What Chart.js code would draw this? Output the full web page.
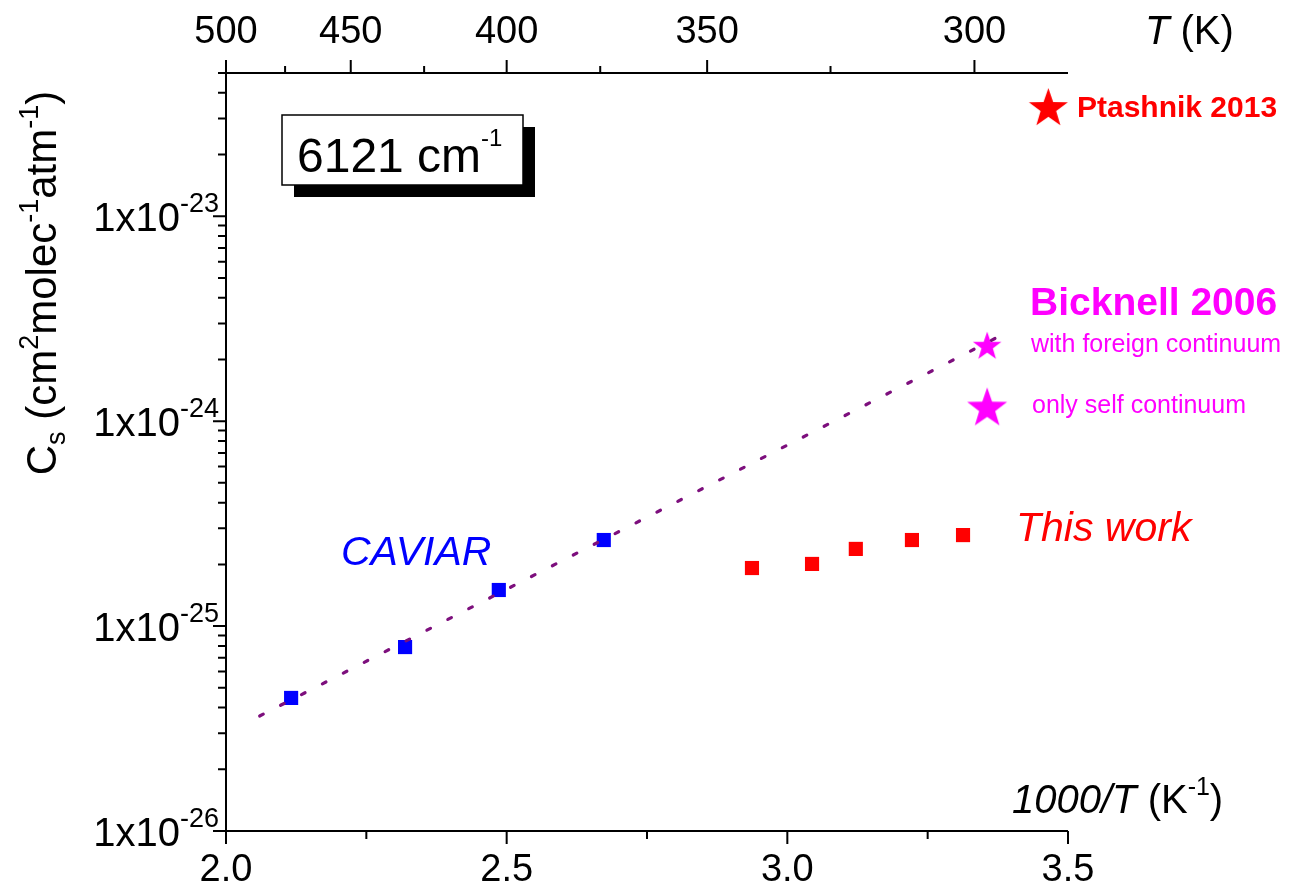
<!DOCTYPE html>
<html>
<head>
<meta charset="utf-8">
<title>Cs vs 1000/T</title>
<script src="https://cdn.jsdelivr.net/npm/chart.js@4.4.1/dist/chart.umd.min.js"></script>
<style>
  html, body { margin: 0; padding: 0; background: #fff; }
  #wrap { width: 1308px; height: 891px; }
</style>
</head>
<body>
<div id="wrap"><canvas id="chart" width="1308" height="891"></canvas></div>
<script>
// 1000/T (K^-1) and self-continuum coefficient Cs (cm2 molec-1 atm-1)
const caviarX = [2.116, 2.319, 2.486, 2.673];
const caviarCs = [4.46e-26, 7.9e-26, 1.5e-25, 2.63e-25];

const thisWorkX = [2.937, 3.044, 3.122, 3.222, 3.313];
const thisWorkCs = [1.92e-25, 2.01e-25, 2.38e-25, 2.63e-25, 2.78e-25];

const ptashnikX = [3.465];
const ptashnikCs = [3.43e-23];

// Bicknell 2006: with foreign continuum, only self continuum
const bicknellX = [3.356, 3.356];
const bicknellCs = [2.35e-24, 1.18e-24];

// extrapolated CAVIAR trend (dotted)
const fitX = [2.06, 3.40];
const fitCs = [3.64e-26, 2.79e-24];

const xTicks = [2.0, 2.5, 3.0, 3.5];
const xMinorTicks = [2.25, 2.75, 3.25];
const tempTicks = [500, 450, 400, 350, 300];
const tempMinorTicks = [475, 425, 375, 325];
const yExponents = [-26, -25, -24, -23];

const SANS = '"Liberation Sans", Arial, Helvetica, sans-serif';

function toPoints(xs, ys) {
  return xs.map((x, i) => ({ x: x, y: ys[i] }));
}

// filled five-pointed star used as a point style
function starImage(outer, color) {
  const size = Math.ceil(outer * 2 + 4);
  const c = document.createElement('canvas');
  c.width = size; c.height = size;
  const g = c.getContext('2d');
  const cx = size / 2, cy = size / 2 + outer * 0.1;
  const inner = outer * 0.4;
  g.beginPath();
  for (let i = 0; i < 10; i++) {
    const r = i % 2 ? inner : outer;
    const a = -Math.PI / 2 + i * Math.PI / 5;
    const px = cx + r * Math.cos(a), py = cy + r * Math.sin(a);
    if (i === 0) g.moveTo(px, py); else g.lineTo(px, py);
  }
  g.closePath();
  g.fillStyle = color;
  g.fill();
  return c;
}

// draw text made of several runs (normal, superscript, subscript)
function drawRuns(ctx, x, y, parts, align) {
  let total = 0;
  parts.forEach(p => { ctx.font = p.font; total += ctx.measureText(p.t).width; });
  let cx = align === 'right' ? x - total : align === 'center' ? x - total / 2 : x;
  parts.forEach(p => {
    ctx.font = p.font;
    ctx.fillText(p.t, cx, y + (p.dy || 0));
    cx += ctx.measureText(p.t).width;
  });
}

const axesAndLabels = {
  id: 'axesAndLabels',
  afterDraw(chart) {
    const ctx = chart.ctx;
    const xs = chart.scales.x, ys = chart.scales.y;
    const a = chart.chartArea;
    ctx.save();
    ctx.strokeStyle = '#000';
    ctx.fillStyle = '#000';
    ctx.lineWidth = 2;
    ctx.textBaseline = 'alphabetic';
    ctx.textAlign = 'left';

    // axis lines: bottom, left, top
    ctx.beginPath();
    ctx.moveTo(a.left, a.top); ctx.lineTo(a.left, a.bottom); ctx.lineTo(a.right, a.bottom);
    ctx.moveTo(a.left, a.top); ctx.lineTo(a.right, a.top);
    ctx.stroke();

    // bottom ticks
    ctx.beginPath();
    xTicks.forEach(v => { const px = xs.getPixelForValue(v); ctx.moveTo(px, a.bottom); ctx.lineTo(px, a.bottom + 13); });
    xMinorTicks.forEach(v => { const px = xs.getPixelForValue(v); ctx.moveTo(px, a.bottom); ctx.lineTo(px, a.bottom + 8); });
    // top ticks at 1000/T
    tempTicks.forEach(t => { const px = xs.getPixelForValue(1000 / t); ctx.moveTo(px, a.top); ctx.lineTo(px, a.top - 13); });
    tempMinorTicks.forEach(t => { const px = xs.getPixelForValue(1000 / t); ctx.moveTo(px, a.top); ctx.lineTo(px, a.top - 7); });
    // left ticks, log decades and minors
    yExponents.forEach(e => {
      const py = ys.getPixelForValue(Math.pow(10, e));
      ctx.moveTo(a.left, py); ctx.lineTo(a.left - 13, py);
      for (let m = 2; m <= 9; m++) {
        const v = m * Math.pow(10, e);
        if (v > ys.max * 1.0001) break;
        const pm = ys.getPixelForValue(v);
        ctx.moveTo(a.left, pm); ctx.lineTo(a.left - 8, pm);
      }
    });
    ctx.stroke();

    // tick labels
    ctx.font = '38px ' + SANS;
    ctx.textAlign = 'center';
    xTicks.forEach(v => ctx.fillText(v.toFixed(1), xs.getPixelForValue(v), a.bottom + 50));
    tempTicks.forEach(t => ctx.fillText(String(t), xs.getPixelForValue(1000 / t), a.top - 30));
    ctx.textAlign = 'left';
    yExponents.forEach(e => {
      const py = ys.getPixelForValue(Math.pow(10, e));
      drawRuns(ctx, a.left - 7, py + 15, [
        { t: '1x10', font: '40px ' + SANS },
        { t: String(e), font: '27px ' + SANS, dy: -19 }
      ], 'right');
    });

    // axis titles
    drawRuns(ctx, 1145, 44, [
      { t: 'T', font: 'italic 40px ' + SANS },
      { t: ' (K)', font: '40px ' + SANS }
    ], 'left');
    drawRuns(ctx, 1012, 813, [
      { t: '1000/T', font: 'italic 40px ' + SANS },
      { t: ' (K', font: '40px ' + SANS },
      { t: '-1', font: '25px ' + SANS, dy: -18 },
      { t: ')', font: '40px ' + SANS }
    ], 'left');

    ctx.save();
    ctx.translate(56, 283);
    ctx.rotate(-Math.PI / 2);
    drawRuns(ctx, 0, 0, [
      { t: 'C', font: '42px ' + SANS },
      { t: 's', font: '27px ' + SANS, dy: 9 },
      { t: ' (cm', font: '42px ' + SANS },
      { t: '2', font: '27px ' + SANS, dy: -18 },
      { t: 'molec', font: '42px ' + SANS },
      { t: '-1', font: '27px ' + SANS, dy: -18 },
      { t: 'atm', font: '42px ' + SANS },
      { t: '-1', font: '27px ' + SANS, dy: -18 },
      { t: ')', font: '42px ' + SANS }
    ], 'center');
    ctx.restore();

    // wavenumber box with drop shadow
    ctx.fillStyle = '#000';
    ctx.fillRect(294, 127, 241, 70);
    ctx.fillStyle = '#fff';
    ctx.fillRect(282, 115, 241, 70);
    ctx.lineWidth = 1.5;
    ctx.strokeRect(282, 115, 241, 70);
    ctx.fillStyle = '#000';
    drawRuns(ctx, 297, 172, [
      { t: '6121 cm', font: '48px ' + SANS },
      { t: '-1', font: '24px ' + SANS, dy: -26 }
    ], 'left');

    // series labels
    ctx.fillStyle = '#0000ff';
    ctx.font = 'italic 41px ' + SANS;
    ctx.fillText('CAVIAR', 341, 565);

    ctx.fillStyle = '#ff0000';
    ctx.font = 'italic 41px ' + SANS;
    ctx.fillText('This work', 1016, 541);
    ctx.font = 'bold 30px ' + SANS;
    ctx.fillText('Ptashnik 2013', 1077, 117);

    ctx.fillStyle = '#ff00ff';
    ctx.font = 'bold 39px ' + SANS;
    ctx.fillText('Bicknell 2006', 1030, 315);
    ctx.font = '25px ' + SANS;
    ctx.fillText('with foreign continuum', 1031, 352);
    ctx.fillText('only self continuum', 1032, 413);

    ctx.restore();
  }
};

new Chart(document.getElementById('chart'), {
  type: 'scatter',
  data: {
    datasets: [
      // first in the list so it is painted over the markers
      {
        label: 'fit',
        data: toPoints(fitX, fitCs),
        showLine: true,
        pointRadius: 0,
        borderColor: '#7d0f7d',
        borderWidth: 3.2,
        borderDash: [4, 19.5],
        borderCapStyle: 'round'
      },
      {
        label: 'CAVIAR',
        data: toPoints(caviarX, caviarCs),
        pointStyle: 'rect',
        pointRadius: 10,
        backgroundColor: '#0000ff',
        borderColor: '#0000ff',
        borderWidth: 0
      },
      {
        label: 'This work',
        data: toPoints(thisWorkX, thisWorkCs),
        pointStyle: 'rect',
        pointRadius: 10,
        backgroundColor: '#ff0000',
        borderColor: '#ff0000',
        borderWidth: 0
      },
      {
        label: 'Ptashnik 2013',
        data: toPoints(ptashnikX, ptashnikCs),
        pointStyle: starImage(20.5, '#ff0000'),
        pointRadius: 20
      },
      {
        label: 'Bicknell 2006',
        data: toPoints(bicknellX, bicknellCs),
        pointStyle: [starImage(15, '#ff00ff'), starImage(21, '#ff00ff')],
        pointRadius: 20
      }
    ]
  },
  options: {
    responsive: false,
    animation: false,
    layout: { padding: { left: 226, right: 240, top: 73, bottom: 60 } },
    scales: {
      x: { type: 'linear', min: 2.0, max: 3.5, display: false },
      y: { type: 'logarithmic', min: 1e-26, max: 5e-23, display: false }
    },
    plugins: {
      legend: { display: false },
      tooltip: { enabled: false }
    }
  },
  plugins: [axesAndLabels]
});
</script>
</body>
</html>
